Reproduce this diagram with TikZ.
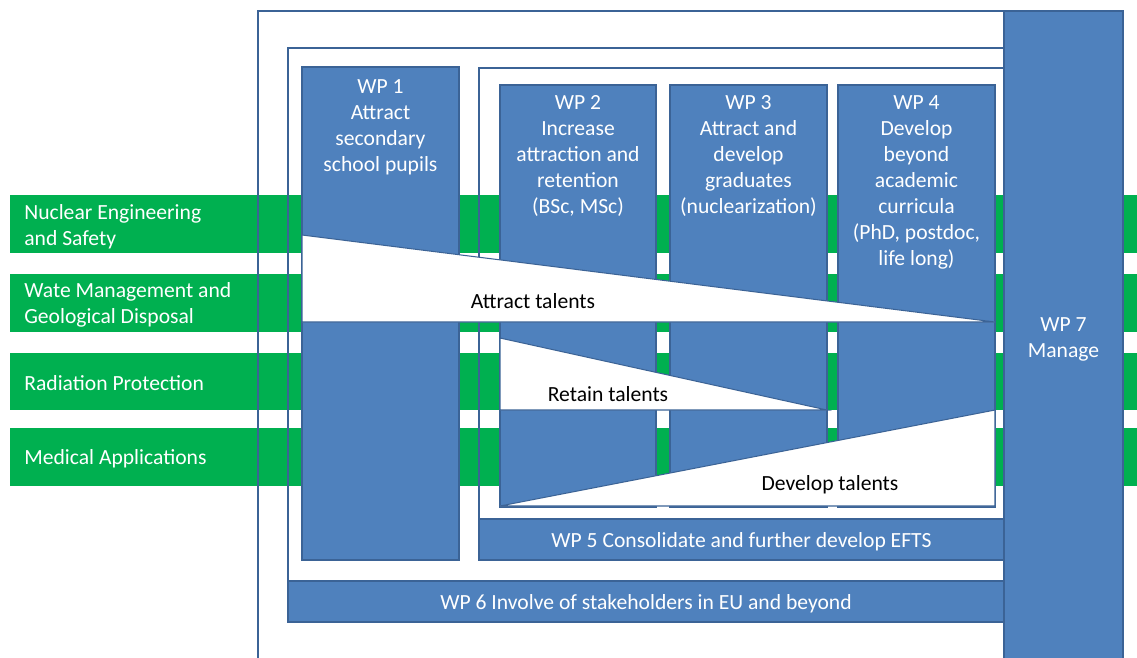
\documentclass[tikz,border=0pt]{standalone}
\usepackage{fontspec}
\setmainfont{Carlito}
\definecolor{wpblue}{HTML}{4F81BD}
\definecolor{wpedge}{HTML}{3B6396}
\definecolor{areagreen}{HTML}{00B050}
\newcommand{\wpfont}{\fontsize{12.3}{14.8}\selectfont}
\begin{document}
\begin{tikzpicture}[x=0.02cm,y=-0.02cm,
  area/.style={fill=areagreen},
  areatext/.style={text=white,anchor=west,align=left,font=\wpfont,inner sep=0pt},
  frame/.style={draw=wpedge,line width=1.1pt},
  wpbox/.style={fill=wpblue,draw=wpedge,line width=0.6pt},
  wptext/.style={text=white,align=center,anchor=north,font=\wpfont,inner sep=0pt},
  talent/.style={fill=white,draw=wpedge,line width=0.6pt},
  talenttext/.style={text=black,font=\wpfont,inner sep=0pt}]
\useasboundingbox (0,0) rectangle (1137,657);
\clip (0,0) rectangle (1137,657);
\fill[area] (10,195) rectangle (1137,253);
\fill[area] (10,274) rectangle (1137,332);
\fill[area] (10,353) rectangle (1137,410);
\fill[area] (10,428) rectangle (1137,486);
\node[areatext] (nes) at (24,227) {Nuclear Engineering\\and Safety};
\node[areatext] (wmg) at (24,305) {Wate Management and\\Geological Disposal};
\node[areatext] (rp) at (24,383) {Radiation Protection};
\node[areatext] (ma) at (24,459) {Medical Applications};
\draw[frame] (258,11) rectangle (1004,670);
\draw[frame] (288,48) rectangle (1004,622);
\draw[frame] (479,68) rectangle (1004,560);
\draw[wpbox] (302,67) rectangle (459,560);
\draw[wpbox] (500,85) rectangle (656,507);
\draw[wpbox] (670,85) rectangle (827,507);
\draw[wpbox] (838,85) rectangle (995,507);
\node[wptext] (wp1) at (380.5,79) {WP 1\\Attract\\secondary\\school pupils};
\node[wptext] (wp2) at (578,95) {WP 2\\Increase\\attraction and\\retention\\(BSc, MSc)};
\node[wptext] (wp3) at (748.5,95) {WP 3\\Attract and\\develop\\graduates\\(nuclearization)};
\node[wptext] (wp4) at (916.5,95) {WP 4\\Develop\\beyond\\academic\\curricula\\(PhD, postdoc,\\life long)};
\draw[talent] (302,235)--(995,322)--(302,322)--cycle;
\draw[talent] (500,338)--(827,410)--(500,410)--cycle;
\draw[talent] (500,506)--(995,410)--(995,506)--cycle;
\node[talenttext] (attract) at (533,301) {Attract talents};
\node[talenttext] (retain) at (608,394) {Retain talents};
\node[talenttext] (develop) at (830,485) {Develop talents};
\draw[wpbox] (479,519) rectangle (1004,560);
\draw[wpbox] (288,581) rectangle (1004,622);
\draw[wpbox] (1004,11) rectangle (1123,670);
\node[wptext,anchor=center] (wp5) at (741.5,542) {WP 5 Consolidate and further develop EFTS};
\node[wptext,anchor=center] (wp6) at (646,604) {WP 6 Involve of stakeholders in EU and beyond};
\node[wptext,anchor=center] (wp7) at (1063.5,339) {WP 7\\Manage};
\end{tikzpicture}
\end{document}
